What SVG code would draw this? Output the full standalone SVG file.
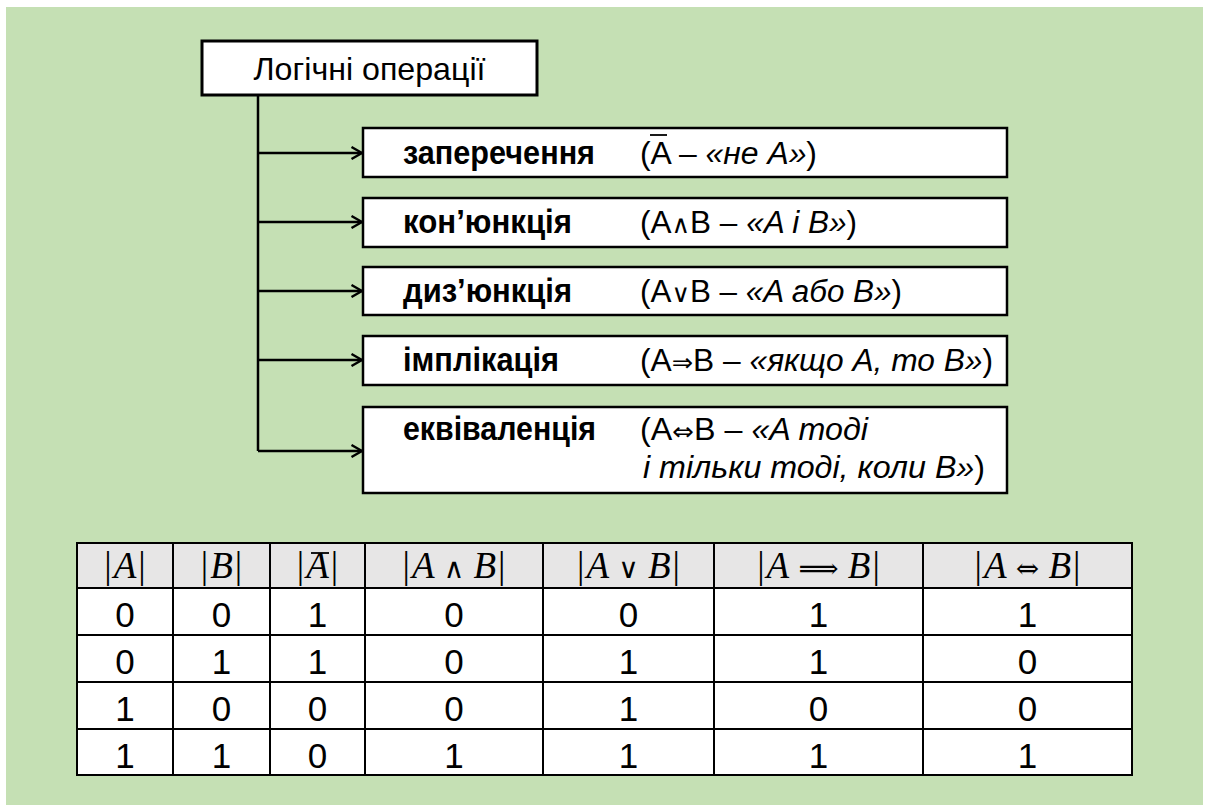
<svg xmlns="http://www.w3.org/2000/svg" width="1208" height="805" viewBox="0 0 1208 805">
  <defs>
    <style>
      .bg { fill: #C5E0B4; }
      .box { fill: #FFFFFF; stroke: #000000; stroke-width: 2.5; }
      .title-box { fill: #FFFFFF; stroke: #000000; stroke-width: 3; }
      .wire { fill: none; stroke: #000000; stroke-width: 2.5; }
      .t { font-family: "Liberation Sans", Arial, sans-serif; fill: #000000; }
      .title { font-size: 32px; }
      .lbl { font-size: 33px; font-weight: bold; }
      .f { font-size: 31px; }
      .i { font-style: italic; }
      .op { font-family: "DejaVu Sans", sans-serif; font-size: 25px; }
      .bar { stroke: #000000; stroke-width: 1.8; }
      .hdr { fill: #E7E6E6; }
      .cell { fill: #FFFFFF; }
      .grid { fill: none; stroke: #000000; stroke-width: 2; }
      .m { font-family: "Liberation Serif", "Times New Roman", serif; font-size: 37px; fill: #000000; }
      .mi { font-style: italic; }
      .mo { font-family: "DejaVu Serif", "DejaVu Sans", serif; font-size: 28px; }
      .d { font-family: "Liberation Sans", Arial, sans-serif; font-size: 35px; fill: #000000; }
    </style>
    <marker id="chev" viewBox="0 0 13 14" refX="12" refY="7" markerWidth="13" markerHeight="14" markerUnits="userSpaceOnUse" orient="auto">
      <path d="M1.5,1 L12,7 L1.5,13" fill="none" stroke="#000000" stroke-width="2.4"/>
    </marker>
  </defs>

  <rect class="bg" x="6" y="7" width="1197" height="798"/>

  <!-- connectors: trunk from the title box and one arrow per operation -->
  <g id="connectors">
    <path class="wire" d="M258,95 V451"/>
    <line class="wire" x1="258" y1="153" x2="362" y2="153" marker-end="url(#chev)"/>
    <line class="wire" x1="258" y1="222" x2="362" y2="222" marker-end="url(#chev)"/>
    <line class="wire" x1="258" y1="291" x2="362" y2="291" marker-end="url(#chev)"/>
    <line class="wire" x1="258" y1="360" x2="362" y2="360" marker-end="url(#chev)"/>
    <line class="wire" x1="258" y1="451" x2="362" y2="451" marker-end="url(#chev)"/>
  </g>

  <g id="node-root">
    <rect class="title-box" x="202" y="41" width="335" height="54"/>
    <text class="t title" x="369.5" y="80" text-anchor="middle" textLength="232" lengthAdjust="spacingAndGlyphs">Логічні операції</text>
  </g>

  <g id="node-negation">
    <rect class="box" x="363" y="128" width="644" height="49"/>
    <text class="t lbl" x="403" y="164" textLength="192" lengthAdjust="spacingAndGlyphs">заперечення</text>
    <text class="t f" x="640" y="164" textLength="177" lengthAdjust="spacingAndGlyphs">(A – <tspan class="i">«не А»</tspan>)</text>
    <line class="bar" x1="650" y1="135" x2="667" y2="135"/>
  </g>

  <g id="node-conjunction">
    <rect class="box" x="363" y="198" width="644" height="49"/>
    <text class="t lbl" x="403" y="233" textLength="169" lengthAdjust="spacingAndGlyphs">кон’юнкція</text>
    <text class="t f" x="640" y="233" textLength="217" lengthAdjust="spacingAndGlyphs">(A<tspan class="op">∧</tspan>B – <tspan class="i">«A і B»</tspan>)</text>
  </g>

  <g id="node-disjunction">
    <rect class="box" x="363" y="267" width="644" height="48"/>
    <text class="t lbl" x="403" y="302" textLength="169" lengthAdjust="spacingAndGlyphs">диз’юнкція</text>
    <text class="t f" x="640" y="302" textLength="262" lengthAdjust="spacingAndGlyphs">(A<tspan class="op">∨</tspan>B – <tspan class="i">«A або B»</tspan>)</text>
  </g>

  <g id="node-implication">
    <rect class="box" x="363" y="336" width="644" height="49"/>
    <text class="t lbl" x="403" y="371" textLength="156" lengthAdjust="spacingAndGlyphs">імплікація</text>
    <text class="t f" x="640" y="371" textLength="353" lengthAdjust="spacingAndGlyphs">(A<tspan class="op">⇒</tspan>B – <tspan class="i">«якщо A, то B»</tspan>)</text>
  </g>

  <g id="node-equivalence">
    <rect class="box" x="363" y="407" width="644" height="86"/>
    <text class="t lbl" x="403" y="440" textLength="193" lengthAdjust="spacingAndGlyphs">еквіваленція</text>
    <text class="t f" x="640" y="440" textLength="228" lengthAdjust="spacingAndGlyphs">(A<tspan class="op">⇔</tspan>B – <tspan class="i">«A тоді</tspan></text>
    <text class="t f i" x="643" y="478" textLength="342" lengthAdjust="spacingAndGlyphs">і тільки тоді, коли B»<tspan style="font-style:normal">)</tspan></text>
  </g>

  <!-- truth table -->
  <g id="truth-table">
    <rect class="hdr" x="77" y="543" width="1055" height="45"/>
    <rect class="cell" x="77" y="588" width="1055" height="187"/>
    <path class="grid" d="M77,543 H1132 V775 H77 Z M77,588 H1132 M77,635 H1132 M77,682 H1132 M77,729 H1132 M173,543 V775 M270,543 V775 M365,543 V775 M543,543 V775 M714,543 V775 M923,543 V775"/>

    <g id="table-header">
      <text class="m" x="125" y="578" text-anchor="middle">|<tspan class="mi" dx="2">A</tspan><tspan dx="2">|</tspan></text>
      <text class="m" x="221.5" y="578" text-anchor="middle">|<tspan class="mi" dx="2">B</tspan><tspan dx="2">|</tspan></text>
      <text class="m" x="317.5" y="578" text-anchor="middle">|<tspan class="mi" dx="2">A</tspan><tspan dx="2">|</tspan></text>
      <line class="bar" x1="311" y1="553" x2="329" y2="553"/>
      <text class="m" x="454" y="578" text-anchor="middle">|<tspan class="mi" dx="2">A</tspan> <tspan class="mo">∧</tspan> <tspan class="mi">B</tspan><tspan dx="2">|</tspan></text>
      <text class="m" x="628.5" y="578" text-anchor="middle">|<tspan class="mi" dx="2">A</tspan> <tspan class="mo">∨</tspan> <tspan class="mi">B</tspan><tspan dx="2">|</tspan></text>
      <text class="m" x="818.5" y="578" text-anchor="middle">|<tspan class="mi" dx="2">A</tspan> <tspan class="mo">⟹</tspan> <tspan class="mi">B</tspan><tspan dx="2">|</tspan></text>
      <text class="m" x="1027.5" y="578" text-anchor="middle">|<tspan class="mi" dx="2">A</tspan> <tspan class="mo">⇔</tspan> <tspan class="mi">B</tspan><tspan dx="2">|</tspan></text>
    </g>

    <g id="table-body" text-anchor="middle">
      <text class="d" x="125" y="627">0</text>
      <text class="d" x="221.5" y="627">0</text>
      <text class="d" x="317.5" y="627">1</text>
      <text class="d" x="454" y="627">0</text>
      <text class="d" x="628.5" y="627">0</text>
      <text class="d" x="818.5" y="627">1</text>
      <text class="d" x="1027.5" y="627">1</text>

      <text class="d" x="125" y="674">0</text>
      <text class="d" x="221.5" y="674">1</text>
      <text class="d" x="317.5" y="674">1</text>
      <text class="d" x="454" y="674">0</text>
      <text class="d" x="628.5" y="674">1</text>
      <text class="d" x="818.5" y="674">1</text>
      <text class="d" x="1027.5" y="674">0</text>

      <text class="d" x="125" y="721">1</text>
      <text class="d" x="221.5" y="721">0</text>
      <text class="d" x="317.5" y="721">0</text>
      <text class="d" x="454" y="721">0</text>
      <text class="d" x="628.5" y="721">1</text>
      <text class="d" x="818.5" y="721">0</text>
      <text class="d" x="1027.5" y="721">0</text>

      <text class="d" x="125" y="768">1</text>
      <text class="d" x="221.5" y="768">1</text>
      <text class="d" x="317.5" y="768">0</text>
      <text class="d" x="454" y="768">1</text>
      <text class="d" x="628.5" y="768">1</text>
      <text class="d" x="818.5" y="768">1</text>
      <text class="d" x="1027.5" y="768">1</text>
    </g>
  </g>
</svg>
